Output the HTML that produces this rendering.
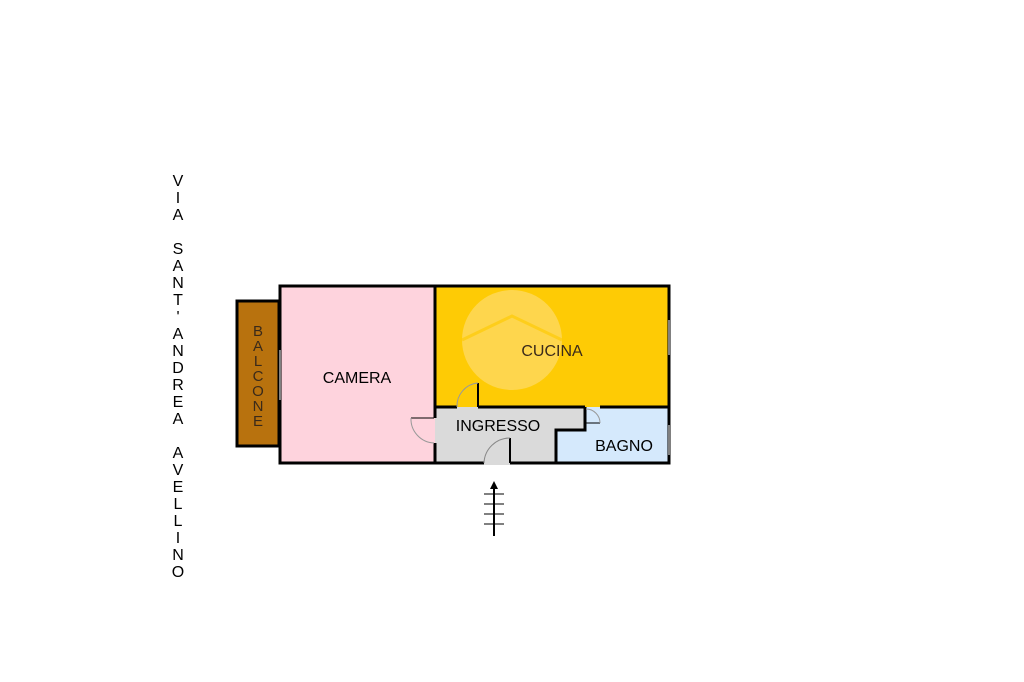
<!DOCTYPE html>
<html><head><meta charset="utf-8"><style>
html,body{margin:0;padding:0;background:#fff;width:1024px;height:682px;overflow:hidden}
</style></head><body>
<svg width="1024" height="682" viewBox="0 0 1024 682" xmlns="http://www.w3.org/2000/svg" font-family="Liberation Sans, Arial, sans-serif">
<rect width="1024" height="682" fill="#fff"/>
<rect x="237" y="301" width="42" height="145" fill="#b8720e" stroke="#000" stroke-width="3"/>
<rect x="280" y="286" width="155" height="177" fill="#fed3dd"/>
<rect x="435" y="286" width="234" height="121" fill="#fecb05"/>
<circle cx="512" cy="340" r="50" fill="#fed85a" opacity="0.85"/>
<polyline points="462,340 512,316 562,340" fill="none" stroke="#fecb05" stroke-width="3" opacity="0.7"/>
<polygon points="435,407 585,407 585,430 556,430 556,463 435,463" fill="#dadada"/>
<polygon points="585,407 669,407 669,463 556,463 556,430 585,430" fill="#d5e9fc"/>
<g stroke="#000" stroke-width="3" fill="none">
<rect x="280" y="286" width="389" height="177"/>
<line x1="435" y1="286" x2="435" y2="418"/>
<line x1="435" y1="443" x2="435" y2="463"/>
<line x1="435" y1="407" x2="457" y2="407"/>
<line x1="478" y1="407" x2="585" y2="407"/>
<line x1="600" y1="407" x2="669" y2="407"/>
<polyline points="585,407 585,430 556,430 556,463"/>
</g>
<line x1="484" y1="463" x2="510" y2="463" stroke="#dadada" stroke-width="4"/>
<g stroke="#000" fill="none">
<line x1="411" y1="418" x2="434" y2="418" stroke-width="1"/>
<path d="M411,418 A24,24 0 0 0 434,443" stroke="#999" stroke-width="1"/>
<line x1="478" y1="383" x2="478" y2="407" stroke-width="2"/>
<path d="M478,383 A23,23 0 0 0 457,407" stroke="#999" stroke-width="1"/>
<line x1="510" y1="438" x2="510" y2="463" stroke-width="2"/>
<path d="M510,438 A26,26 0 0 0 484,463" stroke="#888" stroke-width="1"/>
<line x1="586" y1="423" x2="600" y2="423" stroke-width="1"/>
<path d="M586,409 A14,14 0 0 1 600,423" stroke="#999" stroke-width="1"/>
</g>
<g stroke="#fff" stroke-width="1">
<line x1="280" y1="350" x2="280" y2="400"/>
<line x1="669" y1="320" x2="669" y2="355"/>
<line x1="669" y1="425" x2="669" y2="455"/>
</g>
<g stroke="#000" stroke-width="2">
<line x1="494" y1="486" x2="494" y2="536"/>
<line x1="484" y1="494" x2="504" y2="494" stroke-width="1"/>
<line x1="484" y1="504" x2="504" y2="504" stroke-width="1"/>
<line x1="484" y1="514" x2="504" y2="514" stroke-width="1"/>
<line x1="484" y1="524" x2="504" y2="524" stroke-width="1"/>
</g>
<polygon points="494,481 490,489 498,489" fill="#000"/>
<g font-size="16" fill="#000">
<text x="357" y="383" text-anchor="middle">CAMERA</text>
<text x="552" y="356" text-anchor="middle" fill="#3a2a1a">CUCINA</text>
<text x="498" y="431" text-anchor="middle">INGRESSO</text>
<text x="624" y="451" text-anchor="middle">BAGNO</text>
</g>
<g font-size="15" fill="#3a2a1a" text-anchor="middle">
<text x="258" y="336">B</text><text x="258" y="351">A</text><text x="258" y="366">L</text><text x="258" y="381">C</text><text x="258" y="396">O</text><text x="258" y="411">N</text><text x="258" y="426">E</text>
</g>
<g font-size="16" fill="#000" text-anchor="middle">
<text x="178" y="186">V</text><text x="178" y="203">I</text><text x="178" y="220">A</text>
<text x="178" y="254">S</text><text x="178" y="271">A</text><text x="178" y="288">N</text><text x="178" y="305">T</text><text x="178" y="322">'</text><text x="178" y="339">A</text><text x="178" y="356">N</text><text x="178" y="373">D</text><text x="178" y="390">R</text><text x="178" y="407">E</text><text x="178" y="424">A</text>
<text x="178" y="458">A</text><text x="178" y="475">V</text><text x="178" y="492">E</text><text x="178" y="509">L</text><text x="178" y="526">L</text><text x="178" y="543">I</text><text x="178" y="560">N</text><text x="178" y="577">O</text>
</g>
</svg>
</body></html>
